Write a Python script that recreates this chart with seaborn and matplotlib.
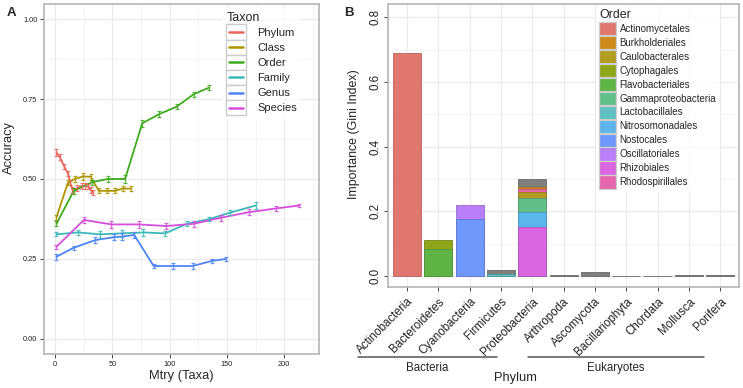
import numpy as np
import pandas as pd
import matplotlib
matplotlib.use('Agg')
import matplotlib.pyplot as plt
import seaborn as sns
from matplotlib.patches import Patch, Rectangle
from matplotlib.lines import Line2D
from matplotlib.legend_handler import HandlerBase
from matplotlib.colors import to_rgb
from matplotlib.ticker import MultipleLocator

# ---- panel A data: accuracy vs mtry per taxonomic level ----
taxa = ['Phylum', 'Class', 'Order', 'Family', 'Genus', 'Species']
phylum_mtry = [1, 4, 8, 11, 13, 15, 19, 23, 26, 29, 31, 33]
phylum_acc = [0.583, 0.568, 0.538, 0.517, 0.49, 0.466, 0.471, 0.478, 0.478, 0.476, 0.466, 0.458]
phylum_err = [0.010, 0.009, 0.008, 0.008, 0.008, 0.009, 0.009, 0.008, 0.009, 0.008, 0.009, 0.008]
class_mtry = [1, 11, 17, 24, 31, 38, 45, 52, 59, 66]
class_acc = [0.38, 0.488, 0.50, 0.508, 0.507, 0.463, 0.463, 0.463, 0.47, 0.47]
class_err = [0.008, 0.008, 0.009, 0.010, 0.010, 0.008, 0.008, 0.008, 0.008, 0.008]
order_mtry = [1, 16, 32, 46, 61, 76, 91, 106, 121, 134]
order_acc = [0.36, 0.462, 0.49, 0.50, 0.50, 0.674, 0.703, 0.726, 0.765, 0.785]
order_err = [0.008, 0.009, 0.008, 0.010, 0.012, 0.010, 0.008, 0.008, 0.008, 0.008]
family_mtry = [1, 20, 39, 58, 77, 96, 115, 134, 153, 175]
family_acc = [0.327, 0.333, 0.327, 0.33, 0.333, 0.33, 0.36, 0.374, 0.395, 0.417]
family_err = [0.006, 0.008, 0.012, 0.010, 0.010, 0.008, 0.008, 0.006, 0.008, 0.010]
genus_mtry = [1, 16, 35, 51, 58, 69, 86, 103, 120, 137, 149]
genus_acc = [0.257, 0.285, 0.309, 0.318, 0.32, 0.325, 0.228, 0.228, 0.228, 0.244, 0.25]
genus_err = [0.010, 0.006, 0.010, 0.010, 0.010, 0.010, 0.006, 0.008, 0.008, 0.006, 0.006]
species_mtry = [1, 25, 49, 73, 97, 121, 145, 169, 193, 213]
species_acc = [0.288, 0.372, 0.358, 0.358, 0.353, 0.36, 0.379, 0.396, 0.408, 0.417]
species_err = [0.006, 0.008, 0.012, 0.010, 0.008, 0.010, 0.010, 0.010, 0.008, 0.006]

# ---- panel B data: stacked importance per phylum / order ----
phyla = ['Actinobacteria', 'Bacteroidetes', 'Cyanobacteria', 'Firmicutes', 'Proteobacteria',
         'Arthropoda', 'Ascomycota', 'Bacillariophyta', 'Chordata', 'Mollusca', 'Porifera']
orders = ['Actinomycetales', 'Burkholderiales', 'Caulobacterales', 'Cytophagales',
          'Flavobacteriales', 'Gammaproteobacteria', 'Lactobacillales', 'Nitrosomonadales',
          'Nostocales', 'Oscillatoriales', 'Rhizobiales', 'Rhodospirillales']
# stacking order, bottom -> top (Other = unassigned, grey)
stack_order = ['Actinomycetales', 'Flavobacteriales', 'Nostocales', 'Lactobacillales', 'Rhizobiales',
               'Nitrosomonadales', 'Gammaproteobacteria', 'Caulobacterales', 'Cytophagales',
               'Oscillatoriales', 'Rhodospirillales', 'Burkholderiales', 'Other']
seg_phylum = ['Actinobacteria', 'Bacteroidetes', 'Bacteroidetes', 'Cyanobacteria', 'Cyanobacteria',
              'Firmicutes', 'Firmicutes', 'Proteobacteria', 'Proteobacteria', 'Proteobacteria',
              'Proteobacteria', 'Proteobacteria', 'Proteobacteria', 'Proteobacteria',
              'Arthropoda', 'Ascomycota', 'Bacillariophyta', 'Chordata', 'Mollusca', 'Porifera']
seg_order = ['Actinomycetales', 'Flavobacteriales', 'Cytophagales', 'Nostocales', 'Oscillatoriales',
             'Lactobacillales', 'Other', 'Rhizobiales', 'Nitrosomonadales', 'Gammaproteobacteria',
             'Caulobacterales', 'Rhodospirillales', 'Burkholderiales', 'Other',
             'Other', 'Other', 'Other', 'Other', 'Other', 'Other']
seg_value = [0.688, 0.083, 0.028, 0.177, 0.041,
             0.007, 0.011, 0.152, 0.046, 0.044,
             0.019, 0.008, 0.006, 0.025,
             0.002, 0.012, 0.001, 0.001, 0.003, 0.002]

taxon_colors = {'Phylum': '#E8675D', 'Class': '#AE9500', 'Order': '#3FAA1F',
                'Family': '#3CB8B8', 'Genus': '#4F84F5', 'Species': '#D54FDB'}
order_colors = {'Actinomycetales': '#E0776E', 'Burkholderiales': '#CF8A1E',
                'Caulobacterales': '#B29C22', 'Cytophagales': '#8FA61A',
                'Flavobacteriales': '#60B446', 'Gammaproteobacteria': '#62BF8A',
                'Lactobacillales': '#5FBFC1', 'Nitrosomonadales': '#5CB6EC',
                'Nostocales': '#7098FA', 'Oscillatoriales': '#B87FF9',
                'Rhizobiales': '#D966DE', 'Rhodospirillales': '#E566AA', 'Other': '#7F7F7F'}

sns.set_theme(style='white')
plt.rcParams['font.family'] = ['Liberation Sans', 'DejaVu Sans']

W, H = 743, 388
fig = plt.figure(figsize=(W / 100, H / 100), dpi=100)


def px_box(l, t, r, b):
    return [l / W, 1 - b / H, (r - l) / W, (b - t) / H]


def style_axes(ax):
    for s in ax.spines.values():
        s.set_color('#B5B5B5')
        s.set_linewidth(1.2)
    ax.grid(which='major', color='#EBEBEB', lw=0.9)
    ax.grid(which='minor', color='#F3F3F3', lw=0.7)
    ax.set_axisbelow(True)
    ax.tick_params(which='major', length=3, width=0.7, color='#444444', bottom=True, left=True)
    ax.tick_params(which='minor', length=0)


class KeyBoxLine(HandlerBase):
    def create_artists(self, legend, orig, xd, yd, width, height, fontsize, trans):
        box = Rectangle((-xd, -yd), width, height, facecolor='white', edgecolor='#CCCCCC',
                        lw=1.0, transform=trans)
        ln = Line2D([-xd + width * 0.14, -xd + width * 0.86], [-yd + height / 2] * 2,
                    color=orig.get_color(), lw=1.8, transform=trans)
        return [box, ln]


# ---------------- panel A ----------------
axA = fig.add_axes(px_box(44.3, 4.3, 319, 354))
frames = []
for name, m, a, e in [('Phylum', phylum_mtry, phylum_acc, phylum_err),
                      ('Class', class_mtry, class_acc, class_err),
                      ('Order', order_mtry, order_acc, order_err),
                      ('Family', family_mtry, family_acc, family_err),
                      ('Genus', genus_mtry, genus_acc, genus_err),
                      ('Species', species_mtry, species_acc, species_err)]:
    frames.append(pd.DataFrame({'Taxon': name, 'mtry': m, 'acc': a, 'err': e}))
dfA = pd.concat(frames, ignore_index=True)

sns.lineplot(data=dfA, x='mtry', y='acc', hue='Taxon', hue_order=taxa, palette=taxon_colors,
             lw=1.3, legend=False, errorbar=None, ax=axA)
for name in taxa:
    d = dfA[dfA['Taxon'] == name]
    axA.errorbar(d['mtry'], d['acc'], yerr=d['err'], fmt='none', ecolor=taxon_colors[name],
                 elinewidth=0.9, capsize=1.3, capthick=0.9, alpha=0.85)

axA.set_xlim(-9.6, 230.5)
axA.set_ylim(-0.047, 1.046)
axA.xaxis.set_major_locator(MultipleLocator(50))
axA.xaxis.set_minor_locator(MultipleLocator(25))
axA.yaxis.set_major_locator(MultipleLocator(0.25))
axA.yaxis.set_minor_locator(MultipleLocator(0.125))
axA.set_yticks([0, 0.25, 0.5, 0.75, 1.0])
axA.set_yticklabels(['0.00', '0.25', '0.50', '0.75', '1.00'])
style_axes(axA)
axA.tick_params(labelsize=5.3, pad=2, labelcolor='#222222')
axA.set_xlabel('Mtry (Taxa)', fontsize=9.3, va='top')
axA.set_ylabel('Accuracy', fontsize=9.3)
axA.xaxis.set_label_coords(0.5, -0.047)
axA.yaxis.set_label_coords(-0.107, 0.59)

handlesA = [Line2D([], [], color=taxon_colors[t]) for t in taxa]
legA = axA.legend(handlesA, taxa, title='Taxon', loc='upper left',
                  bbox_to_anchor=(222 / W, 1 - 8 / H), bbox_transform=fig.transFigure,
                  handler_map={Line2D: KeyBoxLine()}, fontsize=8, title_fontsize=9,
                  handlelength=1.72, handleheight=1.72, labelspacing=0.0, handletextpad=1.05,
                  borderpad=0.4, borderaxespad=0, frameon=True, fancybox=False,
                  alignment='left')
legA.get_frame().set_facecolor('white')
legA.get_frame().set_edgecolor('none')

# ---------------- panel B ----------------
axB = fig.add_axes(px_box(388.3, 4.3, 739, 287.3))
dfB = pd.DataFrame({'Phylum': seg_phylum, 'Order': seg_order, 'value': seg_value})
dfB['rank'] = dfB['Order'].map({o: i for i, o in enumerate(stack_order)})
dfB = dfB.sort_values(['Phylum', 'rank'])
dfB['top'] = dfB.groupby('Phylum')['value'].cumsum()

for o in reversed(stack_order):
    sub = dfB[dfB['Order'] == o]
    if sub.empty:
        continue
    c = order_colors[o]
    edge = tuple(np.array(to_rgb(c)) * 0.82)
    sns.barplot(data=sub, x='Phylum', y='top', order=phyla, color=c, saturation=1,
                width=0.9, errorbar=None, edgecolor=edge, linewidth=0.6, ax=axB)

axB.set_xlim(-0.6, 10.6)
axB.set_ylim(-0.035, 0.84)
axB.yaxis.set_major_locator(MultipleLocator(0.2))
axB.yaxis.set_minor_locator(MultipleLocator(0.1))
axB.set_yticks([0, 0.2, 0.4, 0.6, 0.8])
axB.set_yticklabels(['0.0', '0.2', '0.4', '0.6', '0.8'], rotation=90, va='center')
style_axes(axB)
axB.tick_params(axis='y', labelsize=8.3, pad=2, labelcolor='#222222')
axB.set_xticks(range(len(phyla)))
axB.set_xticklabels(phyla, rotation=45, ha='right', va='top', rotation_mode='anchor',
                    fontsize=8.4, color='#222222')
axB.tick_params(axis='x', pad=3)
axB.set_xlabel('')
axB.set_ylabel('Importance (Gini Index)', fontsize=8.9)
axB.yaxis.set_label_coords(-0.081, 0.54)

handlesB = [Patch(facecolor=order_colors[o], edgecolor='#CDCDCD', lw=0.9) for o in orders]
legB = axB.legend(handlesB, orders, title='Order', loc='upper left',
                  bbox_to_anchor=(595.5 / W, 1 - 5.5 / H), bbox_transform=fig.transFigure,
                  fontsize=7, title_fontsize=8.9, handlelength=1.72, handleheight=1.72,
                  labelspacing=0.07, handletextpad=0.35, borderpad=0.4, borderaxespad=0,
                  frameon=True, fancybox=False, alignment='left')
legB.get_frame().set_facecolor('white')
legB.get_frame().set_edgecolor('none')

# domain brackets under panel B
for (x0, x1, label) in [(358, 496.7, 'Bacteria'), (528, 704, 'Eukaryotes')]:
    fig.add_artist(Line2D([x0 / W, x1 / W], [1 - 356.7 / H] * 2, color='#555555', lw=1.1,
                          transform=fig.transFigure))
    fig.text((x0 + x1) / 2 / W, 1 - 368 / H, label, ha='center', va='center', fontsize=8.3)
fig.text(515.7 / W, 1 - 377.5 / H, 'Phylum', ha='center', va='center', fontsize=9.3)

fig.text(11.7 / W, 1 - 12.8 / H, 'A', ha='center', va='center', fontsize=9.5, fontweight='bold')
fig.text(349 / W, 1 - 12.8 / H, 'B', ha='center', va='center', fontsize=9.5, fontweight='bold')

fig.savefig('out.png', dpi=100)
